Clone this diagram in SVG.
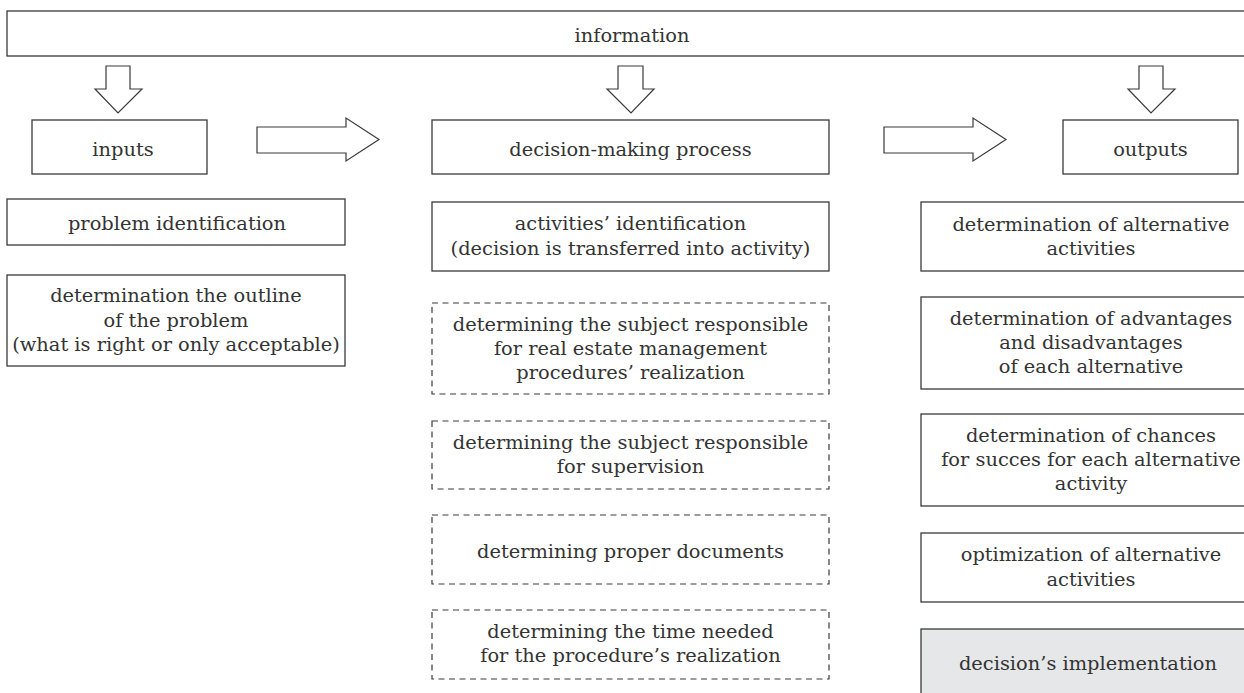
<svg xmlns="http://www.w3.org/2000/svg" width="1244" height="693" viewBox="0 0 1244 693">
<style>
.b{fill:#fff;stroke:#3a3a3a;stroke-width:1.3}
.d{fill:#fff;stroke:#3a3a3a;stroke-width:1.2;stroke-dasharray:6 4.5}
.g{fill:#e6e7e9;stroke:#3a3a3a;stroke-width:1.3}
.a{fill:#fff;stroke:#3a3a3a;stroke-width:1.2;stroke-linejoin:miter}
text{font-family:"DejaVu Serif","Liberation Serif",serif;font-size:19.4px;fill:#333;text-anchor:middle}
</style>
<rect width="1244" height="693" fill="#fff"/>
<g id="connectors">
<polygon class="a" points="106,66 130,66 130,89 142,89 118,113 95,89 106,89"/>
<polygon class="a" points="618,66 643,66 643,89 654,89 631,113 607,89 618,89"/>
<polygon class="a" points="1139,66 1163,66 1163,89 1175,89 1151,113 1128,89 1139,89"/>
<polygon class="a" points="257,127 346,127 346,118 379,139.5 346,161 346,153 257,153"/>
<polygon class="a" points="884,127 973,127 973,118 1006,139.5 973,161 973,153 884,153"/>
</g>
<g id="information"><rect class="b" x="7" y="11" width="1240" height="45"/><text x="632" y="42">information</text></g>
<g id="inputs"><rect class="b" x="32" y="120" width="175" height="54"/><text x="123" y="156">inputs</text></g>
<g id="process"><rect class="b" x="432" y="120" width="397" height="54"/><text x="630.5" y="156">decision-making process</text></g>
<g id="outputs"><rect class="b" x="1063" y="120" width="175" height="54"/><text x="1150.5" y="156">outputs</text></g>
<g id="problem-identification"><rect class="b" x="7" y="199" width="338" height="46"/><text x="177" y="230">problem identification</text></g>
<g id="outline"><rect class="b" x="7" y="275" width="338" height="91"/><text x="176" y="302">determination the outline</text><text x="176" y="327">of the problem</text><text x="176" y="351">(what is right or only acceptable)</text></g>
<g id="activities"><rect class="b" x="432" y="202" width="397" height="69"/><text x="630.5" y="230">activities’ identification</text><text x="630.5" y="255">(decision is transferred into activity)</text></g>
<g id="subject-realization"><rect class="d" x="432" y="303" width="397" height="91"/><text x="630.5" y="331">determining the subject responsible</text><text x="630.5" y="355">for real estate management</text><text x="630.5" y="379">procedures’ realization</text></g>
<g id="subject-supervision"><rect class="d" x="432" y="421" width="397" height="68"/><text x="630.5" y="449">determining the subject responsible</text><text x="630.5" y="473">for supervision</text></g>
<g id="documents"><rect class="d" x="432" y="515" width="397" height="69"/><text x="630.5" y="558">determining proper documents</text></g>
<g id="time"><rect class="d" x="432" y="610" width="397" height="69"/><text x="630.5" y="638">determining the time needed</text><text x="630.5" y="662">for the procedure’s realization</text></g>
<g id="alternatives"><rect class="b" x="921" y="202" width="330" height="69"/><text x="1091" y="231">determination of alternative</text><text x="1091" y="255">activities</text></g>
<g id="advantages"><rect class="b" x="921" y="297" width="330" height="92"/><text x="1091" y="325">determination of advantages</text><text x="1091" y="349">and disadvantages</text><text x="1091" y="373">of each alternative</text></g>
<g id="chances"><rect class="b" x="921" y="414" width="330" height="92"/><text x="1091" y="442">determination of chances</text><text x="1091" y="466">for succes for each alternative</text><text x="1091" y="490">activity</text></g>
<g id="optimization"><rect class="b" x="921" y="533" width="330" height="69"/><text x="1091" y="561">optimization of alternative</text><text x="1091" y="586">activities</text></g>
<g id="implementation"><rect class="g" x="921" y="629" width="330" height="70"/><text x="1088" y="670">decision’s implementation</text></g>
</svg>
